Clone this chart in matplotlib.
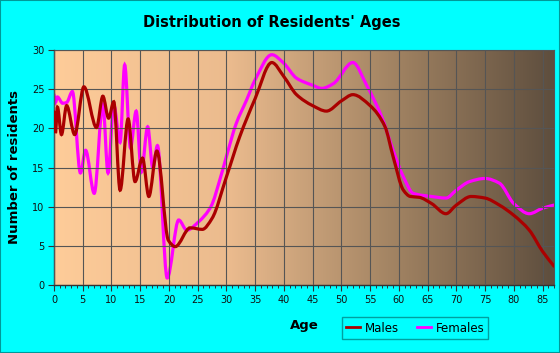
import numpy as np
import matplotlib
matplotlib.use('Agg')
import matplotlib.pyplot as plt
from matplotlib.path import Path
from matplotlib.patches import PathPatch, Rectangle
from matplotlib.colors import LinearSegmentedColormap
from matplotlib.lines import Line2D

# values (age, number of residents)
male_ages = [0, 0.25, 0.6, 1.3, 2.2, 3.6, 5.2, 7.4, 8.5, 9.5, 10.4, 11.5, 12.9, 14.1, 15.4, 16.5,
             17.9, 19.9, 21.1, 23.7, 25.8, 27.5, 30, 32.3, 35, 37.9, 40, 42.2, 45, 47.4, 50, 52,
             55, 57.6, 59, 60.8, 62, 63.5, 65.7, 68.2, 70, 72.6, 75, 77.5, 80, 82.7, 85, 87]
male_vals = [22.1, 19.4, 22.7, 19.2, 22.9, 19.2, 25.3, 20.1, 24.1, 21.3, 23.4, 12.1, 21.2, 13.2, 16.2, 11.3,
             17.1, 5.7, 4.9, 7.3, 7.1, 8.5, 13.8, 18.9, 23.8, 28.4, 26.6, 24.3, 22.9, 22.2, 23.5, 24.3,
             22.9, 20.2, 16.4, 12.1, 11.3, 11.2, 10.4, 9.1, 10.2, 11.3, 11.1, 10.2, 8.9, 7.0, 4.3, 2.4]

female_ages = [0, 0.25, 0.6, 1.5, 2.2, 3.2, 4.6, 5.5, 7.0, 8.5, 9.4, 10.4, 11.5, 12.3, 13.3, 14.3,
               15.2, 16.3, 17.2, 18.0, 19.7, 21.7, 23.1, 25.2, 27.3, 29, 30, 31.7, 33.5, 35, 37.9,
               40, 42.2, 45, 46.6, 48.6, 52, 54.4, 57, 59, 60.8, 62.5, 65.7, 68.2, 70, 72.3, 75,
               77.5, 80, 82.7, 85, 87]
female_vals = [24.3, 23.3, 24.0, 23.2, 23.3, 24.7, 14.3, 17.2, 11.7, 23.1, 14.3, 23.0, 18.2, 28.1, 17.5, 22.2,
               14.4, 20.2, 14.9, 17.8, 0.9, 8.3, 7.0, 8.1, 10.0, 13.8, 16.4, 20.6, 23.6, 26.2, 29.4,
               28.3, 26.4, 25.5, 25.1, 25.7, 28.4, 25.5, 21.5, 17.2, 13.8, 11.7, 11.3, 11.1, 12.1, 13.2, 13.6,
               13.0, 10.4, 9.1, 9.8, 10.2]

x_ticks = list(range(0, 90, 5))
y_ticks = list(range(0, 35, 5))


def smooth_path(xs, ys):
    # monotone cubic (pchip style) tangents, drawn as bezier segments
    x = np.asarray(xs, float)
    y = np.asarray(ys, float)
    h = np.diff(x)
    d = np.diff(y) / h
    m = np.zeros_like(y)
    m[0] = d[0]
    m[-1] = d[-1]
    for k in range(1, len(x) - 1):
        if d[k - 1] * d[k] <= 0:
            m[k] = 0.0
        else:
            w1 = 2 * h[k] + h[k - 1]
            w2 = h[k] + 2 * h[k - 1]
            m[k] = (w1 + w2) / (w1 / d[k - 1] + w2 / d[k])
    verts = [(x[0], y[0])]
    codes = [Path.MOVETO]
    for k in range(len(x) - 1):
        verts += [(x[k] + h[k] / 3, y[k] + m[k] * h[k] / 3),
                  (x[k + 1] - h[k] / 3, y[k + 1] - m[k + 1] * h[k] / 3),
                  (x[k + 1], y[k + 1])]
        codes += [Path.CURVE4] * 3
    return Path(verts, codes)


fig = plt.figure(figsize=(5.6, 3.53), dpi=100, facecolor='#00FFFF')
fig.patches.append(Rectangle((0, 0), 1, 1, transform=fig.transFigure, fill=False,
                             edgecolor='#009999', linewidth=1.5))

ax = fig.add_axes([54 / 560, 68 / 353, 500 / 560, 235 / 353])

# background gradient
grad = LinearSegmentedColormap.from_list('bg', [(0, '#FECC99'), (0.35, '#EBBB8E'),
                                                (0.65, '#A88866'), (1, '#5E4E3E')])
ax.imshow(np.linspace(0, 1, 256).reshape(1, -1), cmap=grad, aspect='auto',
          extent=[0, 87, 0, 30], zorder=0)

ax.set_xlim(0, 87)
ax.set_ylim(0, 30)
ax.set_xticks(x_ticks)
ax.set_xticks(range(0, 88), minor=True)
ax.set_yticks(y_ticks)
ax.grid(True, color='#555555', linewidth=0.8, zorder=1)
ax.set_axisbelow(False)

ax.add_patch(PathPatch(smooth_path(male_ages, male_vals), fill=False, edgecolor='#AA0000',
                       linewidth=2.3, zorder=3, capstyle='round'))
ax.add_patch(PathPatch(smooth_path(female_ages, female_vals), fill=False, edgecolor='#FF00FF',
                       linewidth=2.3, zorder=2, capstyle='round'))

for s in ['top', 'right']:
    ax.spines[s].set_color('#555555')
    ax.spines[s].set_linewidth(0.8)
for s in ['left', 'bottom']:
    ax.spines[s].set_color('#333333')
    ax.spines[s].set_linewidth(1.0)

ax.tick_params(axis='both', which='major', labelsize=7, colors='#333333', length=4, width=0.8,
               labelcolor='#111111', pad=3)
ax.tick_params(axis='x', which='minor', length=2.5, width=0.7, colors='#333333')

ax.set_xlabel('Age', fontsize=9.5, fontweight='bold', labelpad=10)
ax.set_ylabel('Number of residents', fontsize=9.5, fontweight='bold', labelpad=8)
fig.text(0.486, 0.935, "Distribution of Residents' Ages", ha='center', va='center',
         fontsize=10.5, fontweight='bold')

handles = [Line2D([], [], color='#AA0000', linewidth=2),
           Line2D([], [], color='#FF00FF', linewidth=2)]
leg = fig.legend(handles, ['Males', 'Females'], loc='center', ncol=2,
                 bbox_to_anchor=(415 / 560, 1 - 328 / 353), fontsize=8.5, frameon=True,
                 fancybox=False, edgecolor='#008888', facecolor='#00FFFF', handlelength=1.2,
                 handletextpad=0.4, columnspacing=1.5, borderpad=0.35)
leg.get_frame().set_linewidth(1.0)

fig.savefig('out.png', dpi=100, facecolor=fig.get_facecolor())
